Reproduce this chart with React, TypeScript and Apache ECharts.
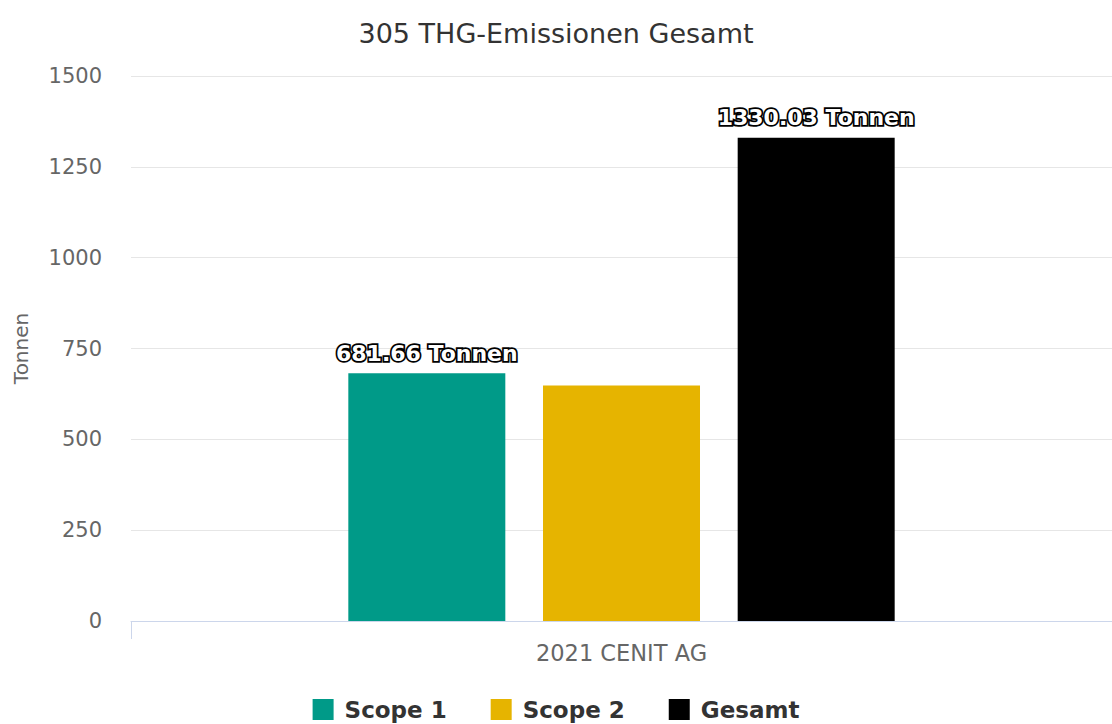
import React, { useEffect, useRef } from "react";
import * as echarts from "echarts";

const categories = ["2021 CENIT AG"];
const seriesNames = ["Scope 1", "Scope 2", "Gesamt"];
const scope1 = [681.66];
const scope2 = [648.37];
const gesamt = [1330.03];
const showLabel = [true, false, true];
const colors = ["#009a88", "#e6b400", "#000000"];
const yTicks = { min: 0, max: 1500, interval: 250 };

const FONT = "DejaVu Sans";

export default function App() {
  const ref = useRef<HTMLDivElement>(null);
  useEffect(() => {
    if (!ref.current) return;
    const chart = echarts.init(ref.current, null, { renderer: "svg" });
    const dataSets = [scope1, scope2, gesamt];
    chart.setOption({
      animation: false,
      backgroundColor: "#ffffff",
      title: {
        text: "305 THG-Emissionen Gesamt",
        left: "center",
        top: 15,
        textStyle: { fontFamily: FONT, fontSize: 27, fontWeight: "normal", color: "#333333" },
      },
      legend: {
        top: 698,
        padding: 0,
        left: "center",
        itemWidth: 21,
        itemHeight: 21,
        itemGap: 44,
        icon: "rect",
        textStyle: {
          fontFamily: FONT,
          fontSize: 23,
          fontWeight: "bold",
          color: "#333333",
          padding: [0, 0, 0, 6],
        },
        data: seriesNames,
      },
      grid: { left: 131, right: 0, top: 76, bottom: 103, containLabel: false },
      xAxis: {
        type: "category",
        data: categories,
        axisLine: { lineStyle: { color: "#ccd6eb", width: 1 } },
        axisTick: { show: true, length: 18, lineStyle: { color: "#ccd6eb" } },
        axisLabel: { fontFamily: FONT, fontSize: 22.5, color: "#666666", margin: 20 },
      },
      yAxis: {
        type: "value",
        min: yTicks.min,
        max: yTicks.max,
        interval: yTicks.interval,
        name: "Tonnen",
        nameLocation: "middle",
        nameGap: 100,
        nameTextStyle: { fontFamily: FONT, fontSize: 20, color: "#666666" },
        axisLine: { show: false },
        axisTick: { show: false },
        axisLabel: {
          fontFamily: FONT,
          fontSize: 21,
          color: "#666666",
          margin: 29,
          formatter: (v: number) => String(v),
        },
        splitLine: { lineStyle: { color: "#e6e6e6", width: 1 } },
      },
      series: seriesNames.map((name, i) => ({
        name,
        type: "bar",
        data: dataSets[i],
        barWidth: 157,
        barGap: "24%",
        itemStyle: { color: colors[i] },
        label: {
          show: showLabel[i],
          position: "top",
          distance: 9,
          formatter: (p: any) => `${p.value.toFixed(2)} Tonnen`,
          fontFamily: FONT,
          fontSize: 22,
          fontWeight: "bold",
          color: "#ffffff",
          textBorderColor: "#000000",
          textBorderWidth: 3.5,
        },
      })),
    });
    return () => chart.dispose();
  }, []);
  return (
    <div
      ref={ref}
      style={{ position: "fixed", left: 0, top: 0, width: 1112, height: 724 }}
    />
  );
}
